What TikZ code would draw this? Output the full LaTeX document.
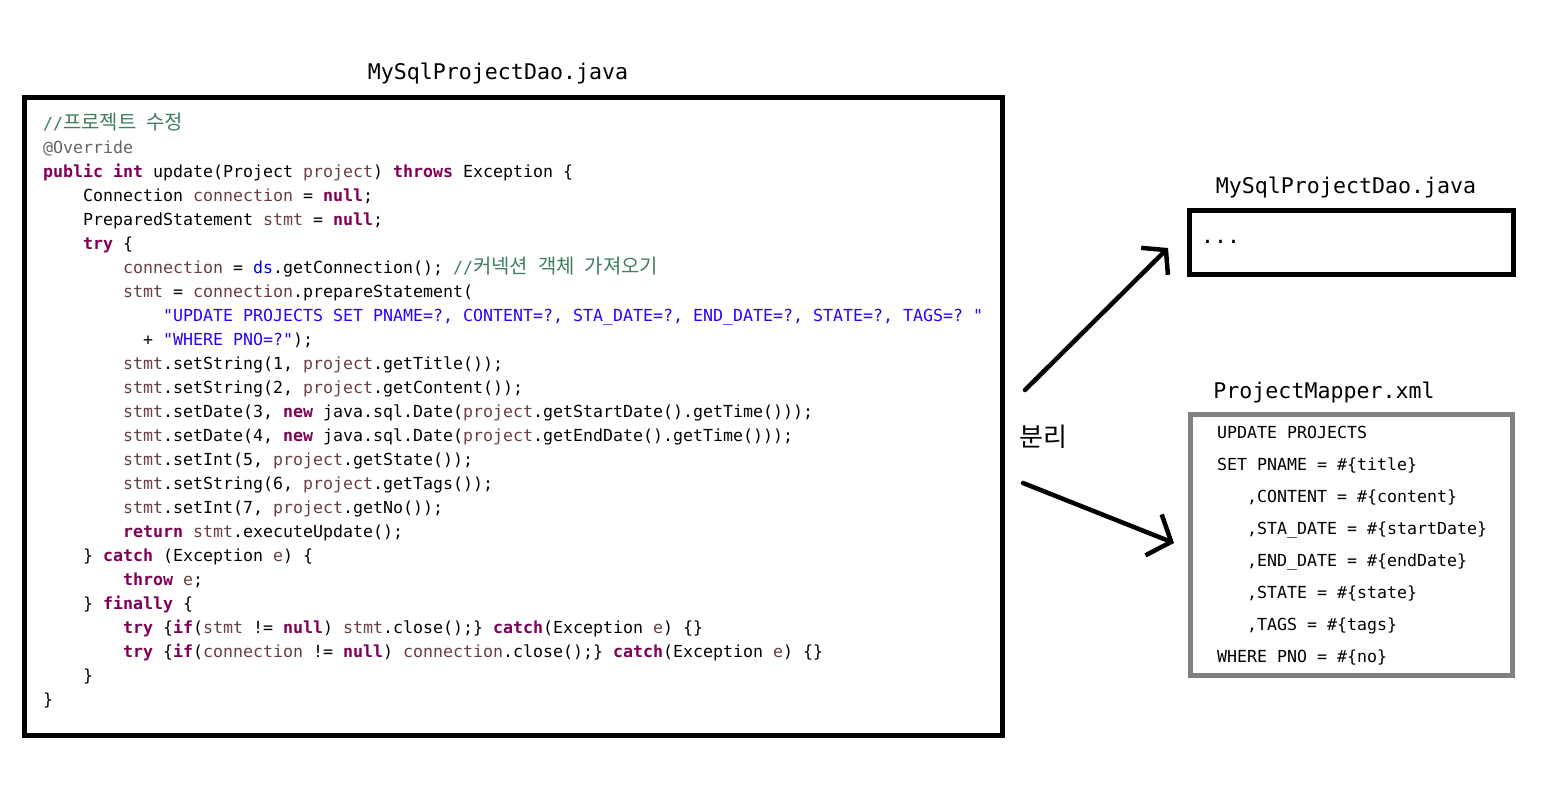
\documentclass[tikz,border=0pt]{standalone}
\usepackage{fontspec}
\setmonofont{DejaVu Sans Mono}
\newfontfamily\kofont[Scale=1.2]{Noto Sans CJK KR}
\newfontfamily\kobig{Noto Sans CJK KR}
\usetikzlibrary{arrows.meta}
\definecolor{kwc}{HTML}{7F0055}
\definecolor{varc}{HTML}{6A3E3E}
\definecolor{strc}{HTML}{2A00FF}
\definecolor{cmtc}{HTML}{3F7F5F}
\definecolor{annc}{HTML}{646464}
\definecolor{fldc}{HTML}{0000C0}
\definecolor{boxgray}{HTML}{808080}
\newcommand\Kw[1]{{\color{kwc}\bfseries #1}}
\newcommand\Vr[1]{{\color{varc}#1}}
\newcommand\Str[1]{{\color{strc}#1}}
\newcommand\Cmt[1]{{\color{cmtc}#1}}
\newcommand\Ann[1]{{\color{annc}#1}}
\newcommand\Fld[1]{{\color{fldc}#1}}
\newcommand\ko[1]{{\kofont #1}}
\newcommand\codefont{\ttfamily\fontsize{16.61}{24}\selectfont\frenchspacing}
\newcommand\titlefont{\ttfamily\fontsize{21.6}{26}\selectfont\frenchspacing}
\tikzset{
  code/.style={anchor=base west, inner sep=0pt, font=\codefont},
  sql/.style={anchor=base west, inner sep=0pt, font=\codefont},
  title/.style={anchor=base, inner sep=0pt, font=\titlefont},
  bigbox/.style={draw=black, line width=5pt, inner sep=0pt, outer sep=0pt, anchor=north west},
  graybox/.style={draw=boxgray, line width=5pt, inner sep=0pt, outer sep=0pt, anchor=north west},
  arr/.style={line width=4.5pt, line cap=round, line join=round},
}
\newcommand\codeln[3]{\node[code] (c#1) at ({43+10*#2},{105+24*#1}) {#3};}
\begin{document}
\begin{tikzpicture}[x=1pt, y=-1pt]
\useasboundingbox (0,0) rectangle (1544,808);
% titles
\node[title] (t1) at (498,80) {MySqlProjectDao.java};
\node[title] (t2) at (1346,193) {MySqlProjectDao.java};
\node[title] (t3) at (1324,398) {ProjectMapper.xml};
% boxes
\node[bigbox, minimum width=978pt, minimum height=637.5pt] (big) at (24.5,97.5) {};
\node[bigbox, minimum width=323.5pt, minimum height=63.5pt] (dao) at (1189.5,210.5) {};
\node[graybox, minimum width=321.5pt, minimum height=260.5pt] (mapper) at (1190.5,414.5) {};
\node[title, anchor=base west] (dots) at (1201,243) {...};
% code
\codeln{1}{0}{\Cmt{//\ko{프로젝트} \ko{수정}}}
\codeln{2}{0}{\Ann{@Override}}
\codeln{3}{0}{\Kw{public} \Kw{int} update(Project \Vr{project}) \Kw{throws} Exception \{}
\codeln{4}{4}{Connection \Vr{connection} = \Kw{null};}
\codeln{5}{4}{PreparedStatement \Vr{stmt} = \Kw{null};}
\codeln{6}{4}{\Kw{try} \{}
\codeln{7}{8}{\Vr{connection} = \Fld{ds}.getConnection(); \Cmt{//\ko{커넥션} \ko{객체} \ko{가져오기}}}
\codeln{8}{8}{\Vr{stmt} = \Vr{connection}.prepareStatement(}
\codeln{9}{12}{\Str{"UPDATE PROJECTS SET PNAME=?, CONTENT=?, STA\_DATE=?, END\_DATE=?, STATE=?, TAGS=? "}}
\codeln{10}{10}{+ \Str{"WHERE PNO=?"});}
\codeln{11}{8}{\Vr{stmt}.setString(1, \Vr{project}.getTitle());}
\codeln{12}{8}{\Vr{stmt}.setString(2, \Vr{project}.getContent());}
\codeln{13}{8}{\Vr{stmt}.setDate(3, \Kw{new} java.sql.Date(\Vr{project}.getStartDate().getTime()));}
\codeln{14}{8}{\Vr{stmt}.setDate(4, \Kw{new} java.sql.Date(\Vr{project}.getEndDate().getTime()));}
\codeln{15}{8}{\Vr{stmt}.setInt(5, \Vr{project}.getState());}
\codeln{16}{8}{\Vr{stmt}.setString(6, \Vr{project}.getTags());}
\codeln{17}{8}{\Vr{stmt}.setInt(7, \Vr{project}.getNo());}
\codeln{18}{8}{\Kw{return} \Vr{stmt}.executeUpdate();}
\codeln{19}{4}{\} \Kw{catch} (Exception \Vr{e}) \{}
\codeln{20}{8}{\Kw{throw} \Vr{e};}
\codeln{21}{4}{\} \Kw{finally} \{}
\codeln{22}{8}{\Kw{try} \{\Kw{if}(\Vr{stmt} != \Kw{null}) \Vr{stmt}.close();\} \Kw{catch}(Exception \Vr{e}) \{\}}
\codeln{23}{8}{\Kw{try} \{\Kw{if}(\Vr{connection} != \Kw{null}) \Vr{connection}.close();\} \Kw{catch}(Exception \Vr{e}) \{\}}
\codeln{24}{4}{\}}
\codeln{25}{0}{\}}
% mapper sql
\node[sql] (q1) at (1217,438) {UPDATE PROJECTS};
\node[sql] (q2) at (1217,470) {SET PNAME = \#\{title\}};
\node[sql] (q3) at (1247,502) {,CONTENT = \#\{content\}};
\node[sql] (q4) at (1247,534) {,STA\_DATE = \#\{startDate\}};
\node[sql] (q5) at (1247,566) {,END\_DATE = \#\{endDate\}};
\node[sql] (q6) at (1247,598) {,STATE = \#\{state\}};
\node[sql] (q7) at (1247,630) {,TAGS = \#\{tags\}};
\node[sql] (q8) at (1217,662) {WHERE PNO = \#\{no\}};
% separation label and arrows
\node[inner sep=0pt, font=\kobig\fontsize{26}{30}\selectfont] (sep) at (1043,437) {분리};
\coordinate (a1s) at (1025,390);
\coordinate (a1e) at (1168,248);
\coordinate (a2s) at (1023,483);
\coordinate (a2e) at (1174,543);
\draw[arr, -{Straight Barb[length=16pt, width=38pt]}] (a1s) -- (a1e);
\draw[arr, -{Straight Barb[length=19pt, width=44pt]}] (a2s) -- (a2e);
\end{tikzpicture}
\end{document}
